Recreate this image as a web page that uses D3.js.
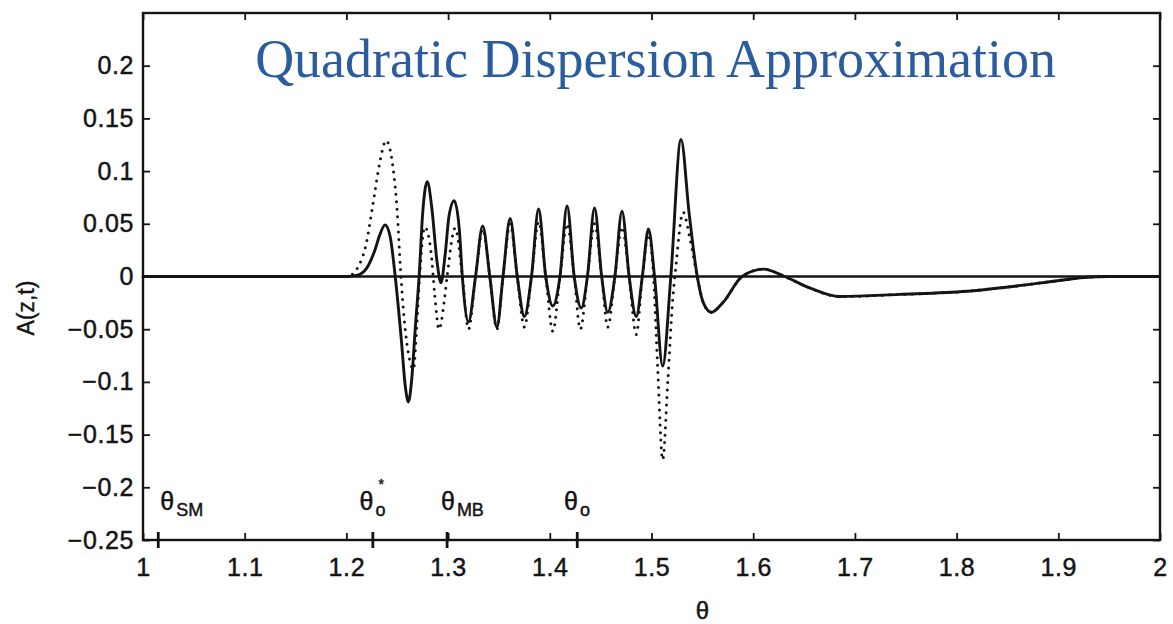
<!DOCTYPE html>
<html>
<head>
<meta charset="utf-8">
<script src="https://cdn.jsdelivr.net/npm/d3@7"></script>
<style>
  html, body { margin: 0; padding: 0; background: #fff; }
  svg { display: block; }
</style>
</head>
<body>
<svg id="chart" width="1173" height="624"></svg>
<script>
// Solid curve: A(z,t) versus theta
const thetaSolid = [1.000, 1.200, 1.210, 1.220, 1.228, 1.233, 1.238, 1.243, 1.248, 1.254, 1.258, 1.261, 1.264, 1.268, 1.2715,
  1.275, 1.2795, 1.284, 1.289, 1.293, 1.297, 1.301, 1.306, 1.311, 1.314, 1.320, 1.327, 1.334, 1.341, 1.348, 1.354,
  1.361, 1.368, 1.375, 1.382, 1.389, 1.396, 1.403, 1.410, 1.417, 1.424, 1.431, 1.437, 1.444, 1.451, 1.457, 1.464,
  1.471, 1.478, 1.485, 1.491, 1.497, 1.503, 1.511, 1.519, 1.529, 1.537, 1.545, 1.551, 1.559, 1.570, 1.589, 1.610,
  1.631, 1.656, 1.685, 1.744, 1.810, 1.859, 1.899, 1.925, 1.950, 2.000];
const ampSolid = [0, 0, 0.001, 0.008, 0.025, 0.040, 0.049, 0.038, 0.000, -0.060, -0.105, -0.119, -0.100, -0.045, 0.000,
  0.060, 0.090, 0.065, 0.015, -0.006, 0.020, 0.058, 0.072, 0.045, 0.000, -0.043, 0.000, 0.048, 0.000, -0.048, 0.000,
  0.055, 0.000, -0.038, 0.000, 0.064, 0.000, -0.028, 0.000, 0.067, 0.000, -0.030, 0.000, 0.065, 0.000, -0.034, 0.000,
  0.062, 0.000, -0.038, 0.000, 0.045, 0.000, -0.085, 0.000, 0.130, 0.060, 0.000, -0.025, -0.034, -0.025, 0.000, 0.007,
  0.000, -0.011, -0.019, -0.017, -0.014, -0.009, -0.004, -0.001, 0, 0];

// Dotted curve
const thetaDotted = [1.000, 1.200, 1.207, 1.212, 1.219, 1.226, 1.233, 1.239, 1.246, 1.250, 1.253, 1.256, 1.259, 1.263,
  1.266, 1.269, 1.272, 1.277, 1.283, 1.287, 1.291, 1.296, 1.299, 1.307, 1.314, 1.320, 1.327, 1.334, 1.341, 1.348,
  1.354, 1.361, 1.368, 1.375, 1.382, 1.389, 1.396, 1.403, 1.410, 1.417, 1.424, 1.430, 1.437, 1.444, 1.451, 1.457,
  1.464, 1.471, 1.478, 1.485, 1.491, 1.497, 1.502, 1.506, 1.511, 1.516, 1.521, 1.524, 1.531, 1.538, 1.545, 1.551,
  1.559, 1.570, 1.589, 1.610, 1.631, 1.656, 1.685, 1.744, 1.810, 1.859, 1.899, 1.925, 1.950, 2.000];
const ampDotted = [0, 0, 0.003, 0.010, 0.029, 0.068, 0.109, 0.129, 0.102, 0.061, 0.010, -0.031, -0.060, -0.082,
  -0.088, -0.050, 0.000, 0.047, 0.025, -0.019, -0.050, -0.025, 0.000, 0.046, 0.000, -0.050, 0.000, 0.045, 0.000, -0.050,
  0.000, 0.050, 0.000, -0.048, 0.000, 0.052, 0.000, -0.052, 0.000, 0.050, 0.000, -0.050, 0.000, 0.050, 0.000, -0.048,
  0.000, 0.047, 0.000, -0.055, 0.000, 0.040, 0.000, -0.085, -0.174, -0.100, -0.020, 0.010, 0.061, 0.035, 0.000, -0.025,
  -0.034, -0.025, 0.000, 0.007, 0.000, -0.011, -0.019, -0.017, -0.014, -0.009, -0.004, -0.001, 0, 0];

// Axis ticks and labels
const xTicks = [1.0, 1.1, 1.2, 1.3, 1.4, 1.5, 1.6, 1.7, 1.8, 1.9, 2.0];
const xTickLabels = ["1", "1.1", "1.2", "1.3", "1.4", "1.5", "1.6", "1.7", "1.8", "1.9", "2"];
const yTicks = [-0.25, -0.2, -0.15, -0.1, -0.05, 0, 0.05, 0.1, 0.15, 0.2];
const yTickLabels = ["\u22120.25", "\u22120.2", "\u22120.15", "\u22120.1", "\u22120.05", "0", "0.05", "0.1", "0.15", "0.2"];

// Characteristic angles marked on the theta axis
const markerNames = ["SM", "o*", "MB", "o"];
const markerTheta = [1.015, 1.226, 1.299, 1.427];
const markerLabelTheta = [1.017, 1.213, 1.293, 1.414];
const markerLabelAmp = -0.222;

const titleText = "Quadratic Dispersion Approximation";

const margin = { left: 143, top: 13, right: 13, bottom: 84 };
const W = 1173, H = 624;
const iw = W - margin.left - margin.right;
const ih = H - margin.top - margin.bottom;

const x = d3.scaleLinear().domain([1, 2]).range([0, iw]);
const y = d3.scaleLinear().domain([-0.25, 0.25]).range([ih, 0]);

const svg = d3.select("#chart");
const g = svg.append("g").attr("transform", `translate(${margin.left},${margin.top})`);

const tickFont = "'Liberation Sans', Arial, Helvetica, sans-serif";
const ink = "#141414";

// zero reference line
g.append("line")
  .attr("x1", x(1)).attr("x2", x(2))
  .attr("y1", y(0)).attr("y2", y(0))
  .attr("stroke", ink).attr("stroke-width", 2.5);

const line = d3.line()
  .x(d => x(d[0]))
  .y(d => y(d[1]))
  .curve(d3.curveMonotoneX);

const dottedData = thetaDotted.map((t, i) => [t, ampDotted[i]]);
const solidData = thetaSolid.map((t, i) => [t, ampSolid[i]]);

g.append("path")
  .datum(dottedData)
  .attr("d", line)
  .attr("fill", "none")
  .attr("stroke", ink)
  .attr("stroke-width", 3)
  .attr("stroke-linecap", "round")
  .attr("stroke-dasharray", "0 7.5");

g.append("path")
  .datum(solidData)
  .attr("d", line)
  .attr("fill", "none")
  .attr("stroke", ink)
  .attr("stroke-width", 2.9)
  .attr("stroke-linejoin", "round");

// axes with inward ticks
const xAxis = d3.axisBottom(x).tickValues(xTicks)
  .tickFormat((d, i) => xTickLabels[i]).tickSize(-7).tickPadding(18);
const yAxis = d3.axisLeft(y).tickValues(yTicks)
  .tickFormat((d, i) => yTickLabels[i]).tickSize(-7).tickPadding(9);

g.append("g").attr("transform", `translate(0,${ih})`).call(xAxis);
g.append("g").call(yAxis);
g.append("g").call(d3.axisTop(x).tickValues(xTicks).tickFormat("").tickSize(-7));
g.append("g").attr("transform", `translate(${iw},0)`)
  .call(d3.axisRight(y).tickValues(yTicks).tickFormat("").tickSize(-7));

g.selectAll(".domain").remove();
g.selectAll(".tick line").attr("stroke", ink).attr("stroke-width", 1.8);
g.selectAll(".tick text")
  .attr("fill", ink)
  .attr("stroke", ink)
  .attr("stroke-width", 0.45)
  .style("font-family", tickFont)
  .style("font-size", "25px")
  .style("letter-spacing", "0.6px");

// frame
g.append("rect")
  .attr("x", 0).attr("y", 0).attr("width", iw).attr("height", ih)
  .attr("fill", "none").attr("stroke", ink).attr("stroke-width", 2.4);

// marker ticks across the bottom axis
g.selectAll(".marker-tick")
  .data(markerTheta)
  .join("line")
  .attr("class", "marker-tick")
  .attr("x1", d => x(d)).attr("x2", d => x(d))
  .attr("y1", ih - 8).attr("y2", ih + 8)
  .attr("stroke", ink).attr("stroke-width", 2.8);

// marker labels: theta with subscripts
const labels = g.selectAll(".marker-label")
  .data(markerNames)
  .join("text")
  .attr("class", "marker-label")
  .attr("x", (d, i) => x(markerLabelTheta[i]))
  .attr("y", y(markerLabelAmp))
  .attr("fill", ink)
  .attr("stroke", ink)
  .attr("stroke-width", 0.45)
  .style("font-family", tickFont)
  .style("font-size", "25px");

labels.each(function(d) {
  const t = d3.select(this);
  t.append("tspan").text("\u03b8");
  const sub = d.replace("*", "");
  t.append("tspan").attr("dy", 6).attr("dx", 2).style("font-size", "18px").text(sub);
  if (d.includes("*")) {
    t.append("tspan").attr("dy", -27).attr("dx", -7).style("font-size", "14px").text("*");
  }
});

// axis titles
g.append("text")
  .attr("x", x(1.55))
  .attr("y", ih + 79)
  .attr("text-anchor", "middle")
  .attr("fill", ink)
  .attr("stroke", ink)
  .attr("stroke-width", 0.45)
  .style("font-family", tickFont)
  .style("font-size", "24px")
  .text("\u03b8");

g.append("text")
  .attr("transform", `translate(${-margin.left + 34},${y(-0.03)}) rotate(-90)`)
  .attr("text-anchor", "middle")
  .attr("fill", ink)
  .attr("stroke", ink)
  .attr("stroke-width", 0.4)
  .style("font-family", tickFont)
  .style("font-size", "23px")
  .text("A(z,t)");

// title inside the plot
g.append("text")
  .attr("x", (x(1.107) + x(1.901)) / 2)
  .attr("y", 64)
  .attr("text-anchor", "middle")
  .attr("fill", "#2a5c9e")
  .style("font-family", "'Liberation Serif', 'Times New Roman', serif")
  .style("font-size", "54px")
  .text(titleText);
</script>
</body>
</html>
